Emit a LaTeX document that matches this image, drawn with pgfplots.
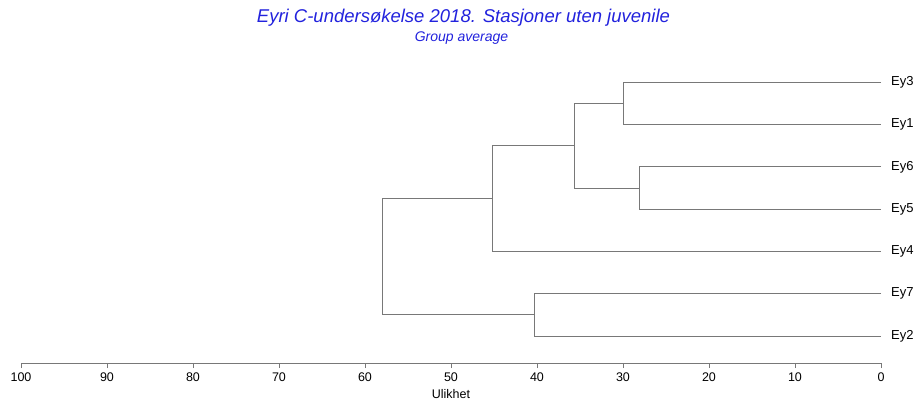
\documentclass[border=0pt]{standalone}
\usepackage{pgfplots}
\pgfplotsset{compat=1.18}
\usepackage{fontspec}
\setmainfont{Liberation Sans}
\definecolor{titleblue}{RGB}{34,34,221}
\definecolor{dgray}{RGB}{120,120,120}
\begin{document}
\begin{tikzpicture}[x=1pt,y=1pt]
\path[use as bounding box] (0,0) rectangle (915,-401);
\begin{axis}[
  at={(21pt,-363pt)}, anchor=south west,
  scale only axis, width=860pt, height=293pt,
  xmin=0, xmax=100, x dir=reverse,
  ymin=0.361, ymax=7.29,
  axis x line=bottom, axis y line=none,
  x axis line style={-, dgray, line width=0.8pt},
  xtick={0,10,...,100},
  xtick align=outside,
  major tick length=5pt,
  every tick/.style={dgray, line width=0.8pt},
  tick label style={font=\fontsize{12.5}{14}\selectfont, black},
  /pgf/number format/assume math mode=true,
  xticklabel style={yshift=-1pt},
  xlabel={Ulikhet},
  xlabel style={font=\fontsize{12.5}{14}\selectfont, yshift=-1.5pt},
  clip=false,
]
\addplot[dgray, line width=0.9pt] coordinates {(0,7) (30.0,7) (30.0,6) (0,6)};
\addplot[dgray, line width=0.9pt] coordinates {(0,5) (28.1,5) (28.1,4) (0,4)};
\addplot[dgray, line width=0.9pt] coordinates {(30.0,6.5) (35.7,6.5) (35.7,4.5) (28.1,4.5)};
\addplot[dgray, line width=0.9pt] coordinates {(35.7,5.5) (45.2,5.5) (45.2,3) (0,3)};
\addplot[dgray, line width=0.9pt] coordinates {(0,2) (40.3,2) (40.3,1) (0,1)};
\addplot[dgray, line width=0.9pt] coordinates {(45.2,4.25) (58.0,4.25) (58.0,1.5) (40.3,1.5)};
\foreach \lab/\yy in {Ey3/7,Ey1/6,Ey6/5,Ey5/4,Ey4/3,Ey7/2,Ey2/1}{
  \edef\temp{\noexpand\node[anchor=west, inner sep=0pt, xshift=10pt, font=\noexpand\fontsize{13}{15}\noexpand\selectfont] at (axis cs:0,\yy) {\lab};}
  \temp
}
\end{axis}
\node[text=titleblue, font=\fontsize{18.5}{21}\selectfont\itshape] at (463.5,-18) {Eyri C-undersøkelse 2018. Stasjoner uten juvenile};
\node[text=titleblue, font=\fontsize{14}{16}\selectfont\itshape] at (461.5,-38) {Group average};
\end{tikzpicture}
\end{document}
